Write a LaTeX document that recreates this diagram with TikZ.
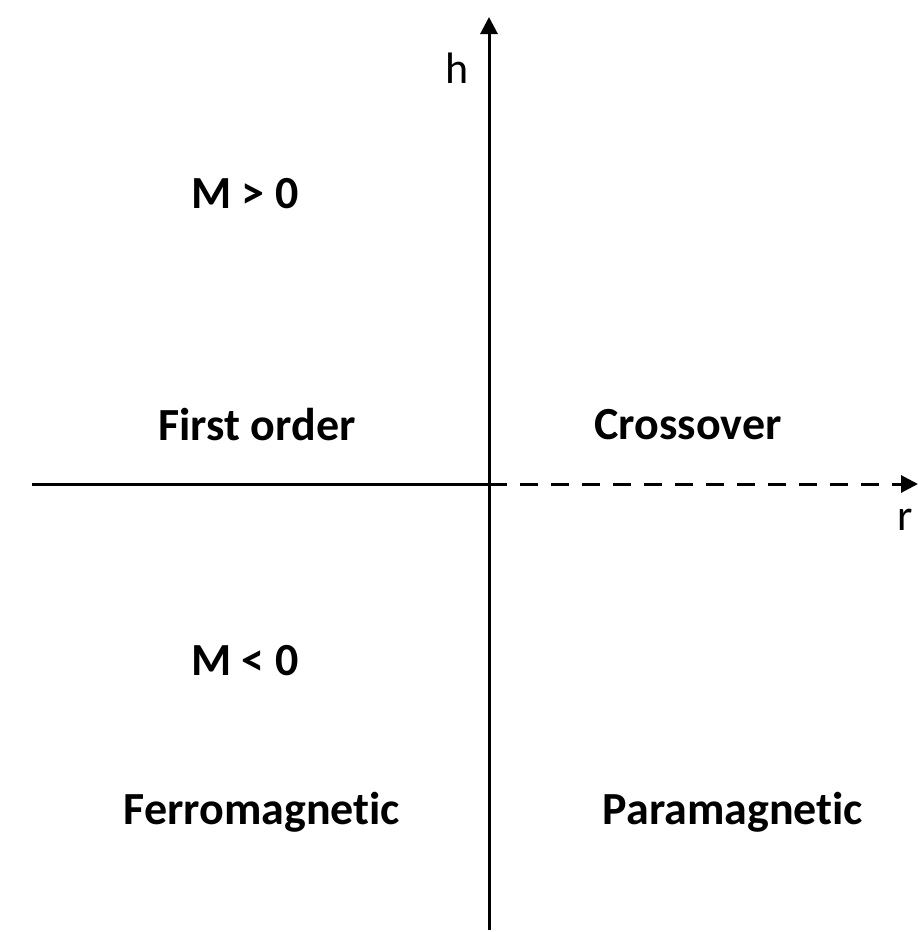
\documentclass[tikz,border=0pt]{standalone}
\usepackage{fontspec}
\setmainfont[Ligatures={NoCommon}]{Carlito}
\usetikzlibrary{arrows.meta}
\begin{document}
\begin{tikzpicture}[x=1pt,y=-1pt,
  axis/.style={line width=3pt},
  tip/.style={-{Triangle[length=17pt,width=17pt]}},
  region/.style={font=\fontsize{46}{54}\selectfont\bfseries, inner sep=0pt},
  axlabel/.style={font=\fontsize{44}{52}\selectfont, inner sep=0pt}]
\useasboundingbox (0,0) rectangle (918,932);
\coordinate (bottom) at (489,930);
\coordinate (top) at (489,17);
\coordinate (left) at (32,484);
\coordinate (origin) at (489,484);
\coordinate (right) at (918,484);
\draw[axis,tip] (bottom) -- (top);
\draw[axis] (left) -- (origin);
\draw[axis,tip,dash pattern=on 18pt off 13pt] (origin) -- (right);
\node[axlabel] (h) at (457,68) {h};
\node[axlabel] (r) at (905,520) {r};
\node[region] (mpos) at (245,194) {M > 0};
\node[region] (first) at (257,425) {First order};
\node[region] (cross) at (688,425) {Crossover};
\node[region] (mneg) at (245,661) {M < 0};
\node[region] (ferro) at (262,812) {Ferromagnetic};
\node[region] (para) at (733,812) {Paramagnetic};
\end{tikzpicture}
\end{document}
